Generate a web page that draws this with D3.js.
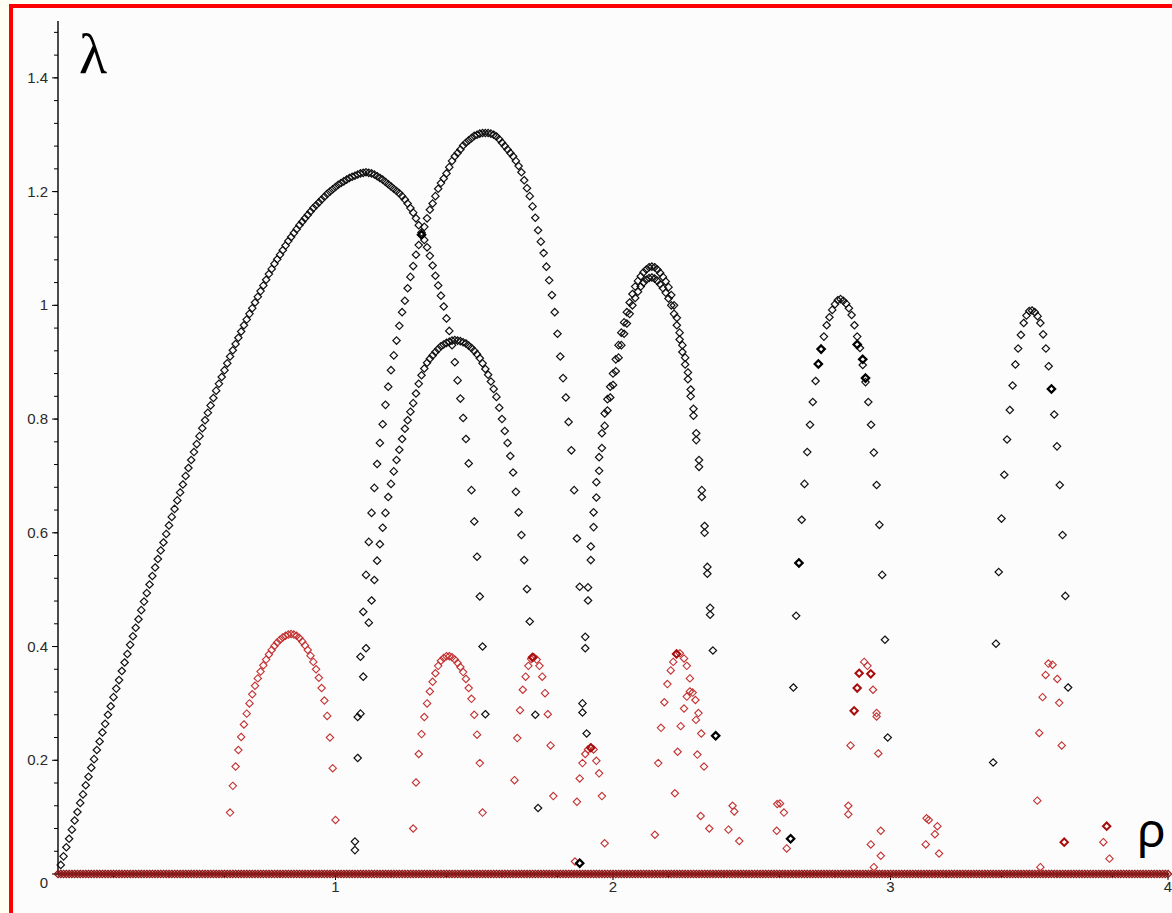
<!DOCTYPE html>
<html>
<head>
<meta charset="utf-8">
<script src="https://cdn.jsdelivr.net/npm/d3@7"></script>
<style>
body { margin: 0; background: #fffff2; }
svg { display: block; }
.tick-label { font-family: "Liberation Sans", Arial, sans-serif; font-size: 15px; fill: #2a2a2a; }
</style>
</head>
<body>
<svg id="chart" width="1172" height="913"></svg>
<script>
// Data ======================================================================
// every branch is sampled at rho steps of 0.01, starting at the given rho
var rhoStep = 0.01;

var archAStart = 0.01;
var archA = [
	.016,.031,.047,.062,.078,.094,.109,.125,.140,.156,
	.171,.187,.202,.218,.233,.249,.264,.280,.295,.311,
	.326,.341,.357,.372,.387,.403,.418,.433,.448,.464,
	.479,.494,.509,.524,.539,.554,.569,.583,.598,.613,
	.628,.642,.657,.671,.685,.700,.714,.728,.742,.756,
	.770,.784,.798,.811,.824,.837,.850,.862,.874,.886,
	.898,.910,.921,.932,.943,.954,.965,.975,.985,.995,
	1.005,1.015,1.025,1.035,1.045,1.055,1.064,1.073,1.081,1.089,
	1.097,1.105,1.113,1.120,1.127,1.134,1.141,1.147,1.153,1.159,
	1.165,1.171,1.176,1.181,1.186,1.191,1.196,1.200,1.204,1.208,
	1.212,1.215,1.218,1.221,1.224,1.226,1.228,1.230,1.232,1.233,
	1.234,1.233,1.232,1.230,1.227,1.224,1.221,1.217,1.213,1.209,
	1.205,1.201,1.197,1.192,1.186,1.179,1.171,1.163,1.153,1.141,
	1.128,1.115,1.102,1.087,1.070,1.052,1.035,1.017,.998,.977,
	.955,.930,.900,.868,.836,.802,.765,.722,.675,.620,
	.558,.488,.400,.281
];

var archBStart = 1.07;
var archB = [
	.057,.276,.382,.461,
	.526,.584,.635,.679,.721,.758,.791,.825,.857,.886,
	.912,.938,.964,.988,1.008,1.030,1.050,1.069,1.089,1.106,
	1.124,1.138,1.153,1.168,1.179,1.192,1.205,1.215,1.223,1.232,
	1.243,1.254,1.262,1.268,1.274,1.281,1.286,1.290,1.294,1.298,
	1.300,1.302,1.303,1.303,1.303,1.302,1.300,1.297,1.292,1.286,
	1.280,1.274,1.268,1.262,1.254,1.245,1.234,1.220,1.206,1.192,
	1.174,1.154,1.132,1.112,1.092,1.068,1.044,1.018,.988,.950,
	.910,.872,.838,.795,.745,.675,.590,.505,.300
];

var archCStart = 1.07;
var archC = [
	.042,.204,.282,.347,
	.397,.442,.481,.517,.551,.580,.609,.635,.663,.686,
	.708,.728,.746,.765,.783,.798,.813,.828,.845,.862,
	.877,.889,.899,.906,.912,.918,.923,.928,.931,.934,
	.936,.938,.939,.938,.937,.935,.933,.929,.925,.920,
	.914,.907,.898,.888,.878,.866,.853,.839,.820,.800,
	.779,.758,.735,.706,.672,.636,.596,.552,.501,.444
];

var archD1Start = 1.90;
var archD1 = [
	.417,.504,.576,.636,.689,.733,.775,.810,.835,.857,
	.880,.905,.930,.952,.970,.988,1.005,1.020,1.033,1.043,
	1.051,1.058,1.063,1.067,1.068,1.067,1.063,1.057,1.050,1.042,
	1.032,1.018,1.000,.978,.952,.930,.908,.882,.852,.818,
	.775,.728,.675,.612,.540,.468,.393,.243
];

var archD2Start = 1.90;
var archD2 = [
	.397,.481,.552,.610,.662,.709,.749,.788,.815,.838,
	.860,.884,.908,.930,.950,.968,.985,1.000,1.013,1.024,
	1.033,1.040,1.045,1.048,1.049,1.047,1.043,1.037,1.030,1.022,
	1.012,1.000,.985,.965,.940,.918,.896,.870,.840,.806,
	.763,.716,.663,.600,.528,.456
];

var archEStart = 2.64;
var archE = [
	.062,.328,.454,.547,.623,.686,.742,.790,.830,.867,
	.897,.923,.945,.965,.979,.992,1.002,1.009,1.011,1.008,
	1.003,.995,.983,.965,.945,.925,.895,.865,.830,.790,
	.741,.684,.614,.526,.412,.240
];

var archFStart = 3.37;
var archF = [
	.196,.405,.531,.625,.702,.764,.816,.859,.896,.924,
	.948,.969,.982,.990,.991,.988,.981,.969,.949,.924,
	.893,.853,.808,.752,.684,.596,.489,.328
];

var blackExtra = [
	[1.72, .280], [1.73, .116], [1.89, .284], [1.905, .247], [1.88, .019]
];

// heavier black markers (overlapping points in the original)
var blackBold = [
	[1.31, .124 + 1], [2.37, .243], [2.64, .062], [2.67, .547], [2.74, .897], [2.75, .923],
	[2.88, .931], [2.90, .905], [2.91, .872], [3.58, .853], [1.88, .019]
];

var redR1Start = 0.62;
var redR1 = [
	.108,.155,.189,.218,.241,.263,.282,.300,.316,.331,
	.344,.356,.367,.377,.386,.394,.401,.407,.412,.416,
	.419,.421,.422,.421,.419,.415,.409,.402,.394,.384,
	.373,.360,.345,.327,.305,.278,.240,.186,.095
];

var redR2Start = 1.28;
var redR2 = [
	.080,.161,.211,.246,.276,.300,.321,.338,.353,.366,
	.375,.380,.383,.383,.381,.377,.371,.364,.355,.343,
	.327,.308,.280,.245,.195,.108
];

var redR3Start = 1.645;
var redR3 = [.165,.239,.288,.324,.347,.366,.378,.381,.377,.366,.347,.318,.281,.226,.137];

var redR4Start = 1.87;
var redR4 = [.127,.168,.195,.211,.219,.222,.219,.199,.177,.137,.054];

var redExtra = [
	[1.863, .022],
	[2.151, .069], [2.163, .195], [2.173, .257], [2.185, .302], [2.196, .334], [2.208, .358],
	[2.217, .373], [2.229, .387], [2.241, .388], [2.256, .379], [2.266, .366], [2.277, .344],
	[2.223, .142], [2.233, .215], [2.244, .260], [2.256, .291], [2.266, .312], [2.277, .321],
	[2.287, .319], [2.297, .306], [2.308, .283], [2.318, .247], [2.328, .189], [2.299, .271],
	[2.304, .210], [2.316, .102], [2.347, .080],
	[2.416, .078], [2.431, .120], [2.437, .110], [2.455, .058],
	[2.592, .123], [2.602, .124], [2.616, .108], [2.590, .076], [2.626, .045],
	[2.905, .373], [2.917, .366], [2.937, .324], [2.950, .283], [2.950, .277], [2.856, .226],
	[2.956, .212], [2.848, .120], [2.848, .105], [2.965, .076], [2.929, .052], [2.965, .032],
	[3.130, .098], [3.138, .095], [3.169, .084], [3.160, .070], [3.127, .052], [3.175, .036],
	[3.569, .370], [3.584, .368], [3.559, .350], [3.601, .343], [3.548, .311], [3.608, .301],
	[3.536, .248], [3.617, .226], [3.529, .129],
	[3.767, .056], [3.789, .027], [2.940, .012], [3.540, .012]
];

// darker, heavier red markers
var redBold = [
	[2.887, .353], [2.929, .352], [2.880, .327], [2.869, .287], [3.626, .056], [3.779, .084],
	[1.92, .222], [2.229, .387], [1.71, .381]
];

// lambda = 0 at every sampled rho
var baselineStart = 0;
var baselineEnd = 4;

var rhoTicks = [1, 2, 3, 4];
var rhoMinorTicks = [0.2,0.4,0.6,0.8,1.2,1.4,1.6,1.8,2.2,2.4,2.6,2.8,3.2,3.4,3.6,3.8];
var lambdaTicks = [0, 0.2, 0.4, 0.6, 0.8, 1, 1.2, 1.4];
var lambdaTickLabels = ["0", "0.2", "0.4", "0.6", "0.8", "1", "1.2", "1.4"];

// Setup =====================================================================
var W = 1172, H = 913;
var plot = { left: 58, right: 1168, top: 21, bottom: 874 };
var blackColor = "#111";
var redColor = "#c43030";

var svg = d3.select("#chart");

svg.append("rect").attr("width", W).attr("height", H).attr("fill", "#fffff2");
svg.append("rect").attr("x", 9).attr("y", 4).attr("width", W - 9).attr("height", H - 4).attr("fill", "#ff0000");
svg.append("rect").attr("x", 13).attr("y", 8).attr("width", W - 13).attr("height", H - 8).attr("fill", "#fcfcfc");

var x = d3.scaleLinear().domain([0, 4]).range([plot.left, plot.right]);
var y = d3.scaleLinear().domain([0, 1.5]).range([plot.bottom, plot.top]);

function branch(start, values) {
	return values.map(function(v, i) { return [+(start + i * rhoStep).toFixed(3), v]; });
}

function diamond(s) {
	return "M0," + (-s) + "L" + s + ",0L0," + s + "L" + (-s) + ",0Z";
}

function drawPoints(points, color, width, size) {
	svg.append("g").selectAll("path")
		.data(points)
		.enter()
		.append("path")
		.attr("d", diamond(size || 3.7))
		.attr("transform", function(d) { return "translate(" + x(d[0]) + "," + y(d[1]) + ")"; })
		.attr("fill", "none")
		.attr("stroke", color)
		.attr("stroke-width", width);
}

// Axes ======================================================================
var yAxisG = svg.append("g");
yAxisG.append("line")
	.attr("x1", plot.left).attr("x2", plot.left)
	.attr("y1", plot.top).attr("y2", plot.bottom)
	.attr("stroke", "#000").attr("stroke-width", 1.4);

var yMinor = d3.range(0, 38).map(function(i) { return i * 0.04; });
yAxisG.selectAll(".minor").data(yMinor).enter().append("line")
	.attr("x1", plot.left - 4).attr("x2", plot.left)
	.attr("y1", function(d) { return y(d); }).attr("y2", function(d) { return y(d); })
	.attr("stroke", "#000");
yAxisG.selectAll(".major").data(lambdaTicks).enter().append("line")
	.attr("x1", plot.left - 6).attr("x2", plot.left)
	.attr("y1", function(d) { return y(d); }).attr("y2", function(d) { return y(d); })
	.attr("stroke", "#000");
yAxisG.selectAll("text").data(lambdaTicks).enter().append("text")
	.attr("class", "tick-label")
	.attr("x", 48)
	.attr("y", function(d) { return d === 0 ? y(d) + 14 : y(d) + 5; })
	.attr("text-anchor", "end")
	.text(function(d, i) { return lambdaTickLabels[i]; });

var xAxisG = svg.append("g");
xAxisG.append("line")
	.attr("x1", plot.left).attr("x2", plot.right)
	.attr("y1", plot.bottom).attr("y2", plot.bottom)
	.attr("stroke", "#000").attr("stroke-width", 1.4);
xAxisG.selectAll(".minor").data(rhoMinorTicks).enter().append("line")
	.attr("x1", function(d) { return x(d); }).attr("x2", function(d) { return x(d); })
	.attr("y1", plot.bottom).attr("y2", plot.bottom + 3)
	.attr("stroke", "#000");
xAxisG.selectAll(".major").data(rhoTicks).enter().append("line")
	.attr("x1", function(d) { return x(d); }).attr("x2", function(d) { return x(d); })
	.attr("y1", plot.bottom).attr("y2", plot.bottom + 6)
	.attr("stroke", "#000");
xAxisG.selectAll("text").data(rhoTicks).enter().append("text")
	.attr("class", "tick-label")
	.attr("x", function(d) { return x(d); })
	.attr("y", plot.bottom + 18)
	.attr("text-anchor", "middle")
	.text(function(d) { return d; });

// Points ====================================================================
var baseline = d3.range(baselineStart, baselineEnd + rhoStep / 2, rhoStep).map(function(r) { return [r, 0]; });
drawPoints(baseline, "#8e1818", 1.3);

drawPoints(branch(redR1Start, redR1), redColor, 1.1);
drawPoints(branch(redR2Start, redR2), redColor, 1.1);
drawPoints(branch(redR3Start, redR3), redColor, 1.1);
drawPoints(branch(redR4Start, redR4), redColor, 1.1);
drawPoints(redExtra, redColor, 1.1);
drawPoints(redBold, "#a80c0c", 2);

drawPoints(branch(archAStart, archA), blackColor, 1.2);
drawPoints(branch(archBStart, archB), blackColor, 1.2);
drawPoints(branch(archCStart, archC), blackColor, 1.2);
drawPoints(branch(archD1Start, archD1), blackColor, 1.2);
drawPoints(branch(archD2Start, archD2), blackColor, 1.2);
drawPoints(branch(archEStart, archE), blackColor, 1.2);
drawPoints(branch(archFStart, archF), blackColor, 1.2);
drawPoints(blackExtra, blackColor, 1.2);
drawPoints(blackBold, "#000", 2.2);

// Axis names ================================================================
svg.append("text")
	.attr("x", 79).attr("y", 73)
	.attr("font-family", "'Liberation Serif', 'DejaVu Serif', serif")
	.attr("font-size", 58)
	.attr("fill", "#000")
	.text("λ");

svg.append("text")
	.attr("x", 1137).attr("y", 847)
	.attr("font-family", "'Noto Sans', 'DejaVu Sans', sans-serif")
	.attr("font-size", 48)
	.attr("fill", "#000")
	.text("ρ");
</script>
</body>
</html>
